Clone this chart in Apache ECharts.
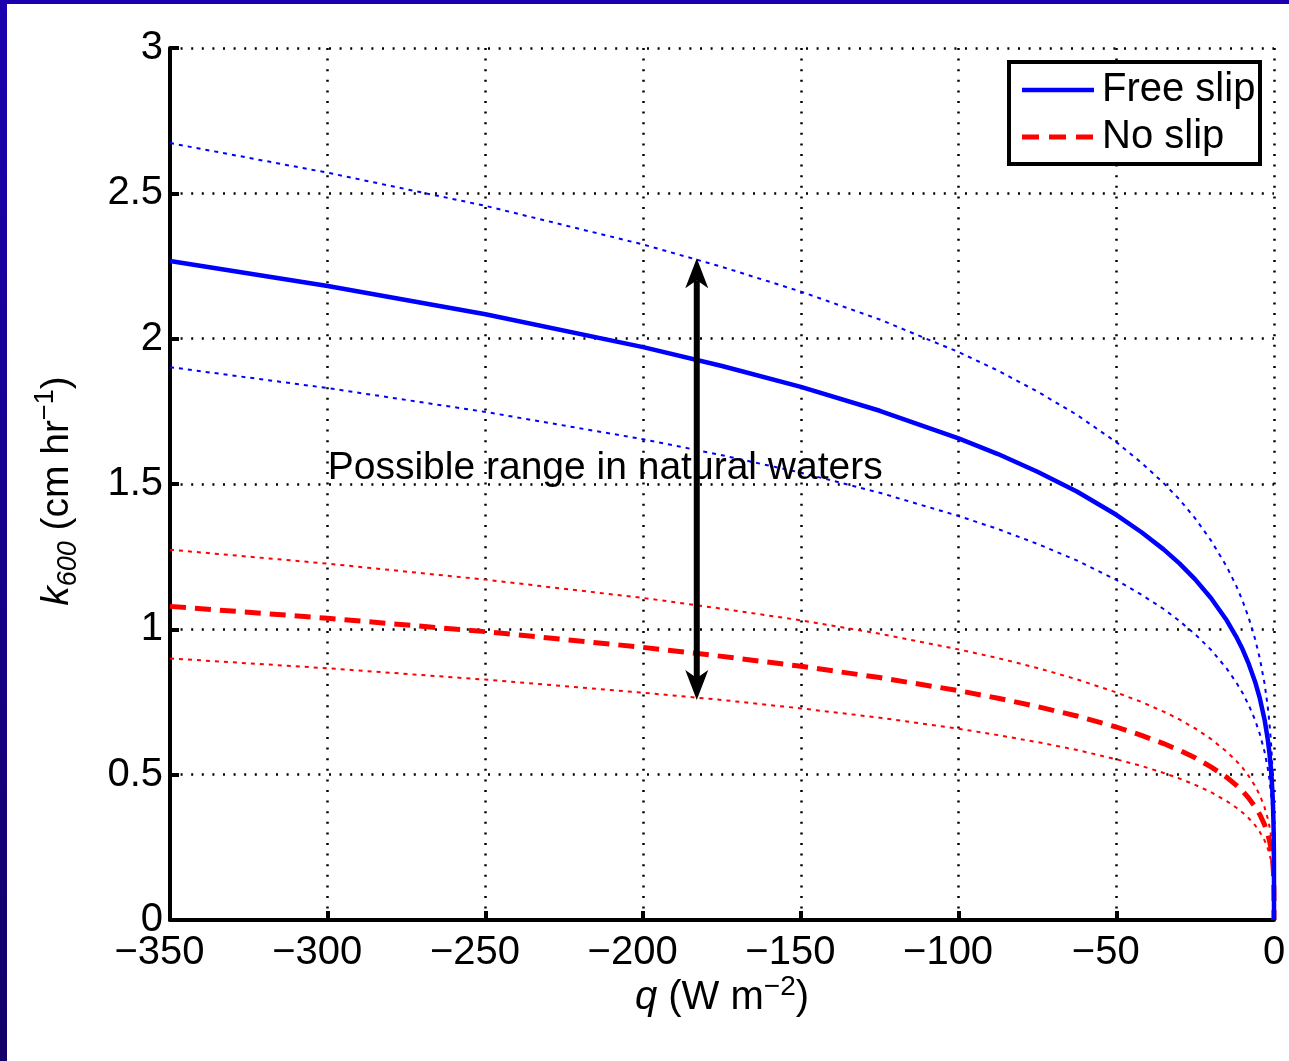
<!DOCTYPE html>
<html>
<head>
<meta charset="utf-8">
<script src="https://cdn.jsdelivr.net/npm/echarts@6/dist/echarts.min.js"></script>
<style>
  html, body { margin: 0; padding: 0; background: #fff; }
  #wrap { position: relative; width: 1289px; height: 1061px; overflow: hidden; }
  #chart { position: absolute; left: 0; top: 0; width: 1289px; height: 1061px; }
  #bl { position: absolute; left: 0; top: 0; width: 7px; height: 1061px; background: linear-gradient(#1c00b0, #140068); }
  #bt { position: absolute; left: 0; top: 0; width: 1289px; height: 4px; background: #1c00b0; }
</style>
</head>
<body>
<div id="wrap">
  <div id="chart"></div>
  <div id="bl"></div>
  <div id="bt"></div>
</div>
<script>
// q (W m^-2)
const qValues = [-350, -300, -250, -200, -175, -150, -125, -100, -87.5, -75, -62.5, -50, -42, -35, -30, -25, -20, -15, -12, -10, -8, -6, -4.5, -3, -2, -1.5, -1, -0.7, -0.45, -0.3, -0.18, -0.1, -0.05, -0.02, -0.005, 0];
// Free slip (solid) and its possible range (dotted)
const freeSlip     = [2.267, 2.181, 2.084, 1.971, 1.906, 1.834, 1.752, 1.657, 1.603, 1.542, 1.474, 1.394, 1.334, 1.275, 1.227, 1.172, 1.108, 1.031, 0.975, 0.932, 0.881, 0.820, 0.763, 0.690, 0.623, 0.580, 0.524, 0.479, 0.429, 0.388, 0.341, 0.295, 0.248, 0.197, 0.139, 0];
const freeSlipHigh = [2.673, 2.571, 2.457, 2.324, 2.247, 2.162, 2.066, 1.954, 1.890, 1.818, 1.738, 1.644, 1.573, 1.503, 1.447, 1.382, 1.306, 1.216, 1.150, 1.099, 1.039, 0.967, 0.900, 0.814, 0.735, 0.684, 0.618, 0.565, 0.506, 0.457, 0.402, 0.348, 0.292, 0.232, 0.164, 0];
const freeSlipLow  = [1.902, 1.830, 1.748, 1.654, 1.599, 1.539, 1.470, 1.390, 1.345, 1.294, 1.237, 1.170, 1.119, 1.070, 1.029, 0.983, 0.930, 0.865, 0.818, 0.782, 0.739, 0.688, 0.640, 0.579, 0.523, 0.487, 0.440, 0.402, 0.360, 0.326, 0.286, 0.248, 0.208, 0.165, 0.117, 0];
// No slip (dashed) and its possible range (dotted)
const noSlip       = [1.079, 1.038, 0.992, 0.938, 0.907, 0.873, 0.834, 0.789, 0.763, 0.734, 0.702, 0.664, 0.635, 0.607, 0.584, 0.558, 0.527, 0.491, 0.464, 0.444, 0.419, 0.390, 0.363, 0.328, 0.297, 0.276, 0.249, 0.228, 0.204, 0.185, 0.162, 0.140, 0.118, 0.094, 0.066, 0];
const noSlipHigh   = [1.274, 1.226, 1.171, 1.108, 1.071, 1.031, 0.985, 0.931, 0.901, 0.867, 0.828, 0.783, 0.750, 0.717, 0.690, 0.659, 0.623, 0.579, 0.548, 0.524, 0.495, 0.461, 0.429, 0.388, 0.350, 0.326, 0.294, 0.269, 0.241, 0.218, 0.192, 0.166, 0.139, 0.111, 0.078, 0];
const noSlipLow    = [0.900, 0.866, 0.827, 0.782, 0.757, 0.728, 0.696, 0.658, 0.636, 0.612, 0.585, 0.553, 0.530, 0.506, 0.487, 0.465, 0.440, 0.409, 0.387, 0.370, 0.350, 0.326, 0.303, 0.274, 0.247, 0.230, 0.208, 0.190, 0.170, 0.154, 0.135, 0.117, 0.098, 0.078, 0.055, 0];
// Double arrow showing the possible range
const arrowQ = -183;
const arrowRange = [0.757, 2.277];
const annotationText = 'Possible range in natural waters';
const annotationPos = [-300, 1.555];
const legendNames = ['Free slip', 'No slip'];
const xTicks = [-350, -300, -250, -200, -150, -100, -50, 0];
const yTicks = [0, 0.5, 1, 1.5, 2, 2.5, 3];

const FONT = '"Liberation Sans", Arial, sans-serif';
const FS = 40;
const pair = arr => qValues.map((q, i) => [q, arr[i]]);

const chart = echarts.init(document.getElementById('chart'), null, { renderer: 'canvas' });

const gridDots = { color: '#000', width: 2.5, type: [2, 8.6] };
const DASH = [16, 9];
const DOT = [4, 5];

function curve(name, data, color, width, type, z) {
  return {
    name: name, type: 'line', data: pair(data), showSymbol: false, symbol: 'none',
    smooth: false, silent: true, z: z,
    lineStyle: { color: color, width: width, type: type },
    itemStyle: { color: color }
  };
}

const option = {
  animation: false,
  backgroundColor: '#fff',
  grid: { left: 170, right: 15, top: 48, bottom: 141, containLabel: false },
  xAxis: {
    type: 'value', min: xTicks[0], max: xTicks[xTicks.length - 1], interval: 50,
    axisLine: { show: true, onZero: false, lineStyle: { color: '#000', width: 4 } },
    axisTick: { show: true, inside: true, length: 9, lineStyle: { color: '#000', width: 4 } },
    axisLabel: {
      show: true, margin: 13, color: '#000', fontSize: FS, fontFamily: FONT,
      formatter: v => (v < 0 ? '{n|\u2212' + Math.abs(v) + '}' : '{z|' + v + '}'),
      rich: {
        n: { fontSize: FS, fontFamily: FONT, color: '#000', padding: [0, 21, 0, 0] },
        z: { fontSize: FS, fontFamily: FONT, color: '#000' }
      }
    },
    splitLine: { show: true, lineStyle: gridDots }
  },
  yAxis: {
    type: 'value', min: yTicks[0], max: yTicks[yTicks.length - 1], interval: 0.5,
    axisLine: { show: true, onZero: false, lineStyle: { color: '#000', width: 4 } },
    axisTick: { show: true, inside: true, length: 9, lineStyle: { color: '#000', width: 4 } },
    axisLabel: { show: true, margin: 7, color: '#000', fontSize: FS, fontFamily: FONT },
    splitLine: { show: true, lineStyle: gridDots }
  },
  series: [
    curve('fsHigh', freeSlipHigh, '#0000ff', 2, DOT, 2),
    curve('fsLow', freeSlipLow, '#0000ff', 2, DOT, 2),
    curve('nsHigh', noSlipHigh, '#ff0000', 2, DOT, 2),
    curve('nsLow', noSlipLow, '#ff0000', 2, DOT, 2),
    curve(legendNames[1], noSlip, '#ff0000', 5, DASH, 3),
    curve(legendNames[0], freeSlip, '#0000ff', 4.5, 'solid', 4)
  ]
};

chart.setOption(option);

// Annotation, double arrow, legend and axis titles
const ap = chart.convertToPixel({ gridIndex: 0 }, annotationPos);
const aLo = chart.convertToPixel({ gridIndex: 0 }, [arrowQ, arrowRange[0]]);
const aHi = chart.convertToPixel({ gridIndex: 0 }, [arrowQ, arrowRange[1]]);
const AX = aHi[0], HW = 11.5, HL = 30, HN = 22;
const LX = 1009, LY = 62, LW = 251, LH = 102;
chart.setOption({
  graphic: [
    {
      type: 'text', x: ap[0], y: ap[1], z: 5,
      style: { text: annotationText, fill: '#000', font: (FS - 1) + 'px ' + FONT, align: 'left', verticalAlign: 'middle' }
    },
    {
      type: 'line', z: 6, shape: { x1: AX, y1: aHi[1] + HN, x2: AX, y2: aLo[1] - HN },
      style: { stroke: '#000', lineWidth: 6 }
    },
    {
      type: 'polygon', z: 6,
      shape: { points: [[AX, aHi[1]], [AX + HW, aHi[1] + HL], [AX, aHi[1] + HN], [AX - HW, aHi[1] + HL]] },
      style: { fill: '#000' }
    },
    {
      type: 'polygon', z: 6,
      shape: { points: [[AX, aLo[1]], [AX + HW, aLo[1] - HL], [AX, aLo[1] - HN], [AX - HW, aLo[1] - HL]] },
      style: { fill: '#000' }
    },
    {
      type: 'rect', z: 20, shape: { x: LX, y: LY, width: LW, height: LH },
      style: { fill: '#fff', stroke: '#000', lineWidth: 4 }
    },
    {
      type: 'line', z: 21, shape: { x1: LX + 13, y1: LY + 28, x2: LX + 85, y2: LY + 28 },
      style: { stroke: '#0000ff', lineWidth: 4.5 }
    },
    {
      type: 'line', z: 21, shape: { x1: LX + 13, y1: LY + 75, x2: LX + 85, y2: LY + 75 },
      style: { stroke: '#ff0000', lineWidth: 5, lineDash: [17, 10] }
    },
    {
      type: 'text', z: 21, x: LX + 93, y: LY + 28,
      style: { text: legendNames[0], fill: '#000', font: FS + 'px ' + FONT, align: 'left', verticalAlign: 'middle' }
    },
    {
      type: 'text', z: 21, x: LX + 93, y: LY + 75,
      style: { text: legendNames[1], fill: '#000', font: FS + 'px ' + FONT, align: 'left', verticalAlign: 'middle' }
    },
    {
      type: 'text', x: 57, y: 491, rotation: Math.PI / 2, z: 10,
      style: {
        text: '{k|k}{sub|600}{n| (cm hr}{sup|\u22121}{n|)}',
        align: 'center', verticalAlign: 'middle',
        rich: {
          k: { fontSize: 39, fontStyle: 'italic', fontFamily: FONT, lineHeight: 50, color: '#000' },
          n: { fontSize: 39, fontFamily: FONT, lineHeight: 50, color: '#000' },
          sub: { fontSize: 27, fontStyle: 'italic', fontFamily: FONT, lineHeight: 14, verticalAlign: 'bottom', color: '#000' },
          sup: { fontSize: 27, fontFamily: FONT, lineHeight: 14, verticalAlign: 'top', color: '#000' }
        }
      }
    },
    {
      type: 'text', x: 722, y: 998, z: 10,
      style: {
        text: '{q|q}{n| (W m}{sup|\u22122}{n|)}',
        align: 'center', verticalAlign: 'middle',
        rich: {
          q: { fontSize: FS, fontStyle: 'italic', fontFamily: FONT, lineHeight: 50, color: '#000' },
          n: { fontSize: FS, fontFamily: FONT, lineHeight: 50, color: '#000' },
          sup: { fontSize: 28, fontFamily: FONT, lineHeight: 14, verticalAlign: 'top', color: '#000' }
        }
      }
    }
  ]
});
</script>
</body>
</html>
